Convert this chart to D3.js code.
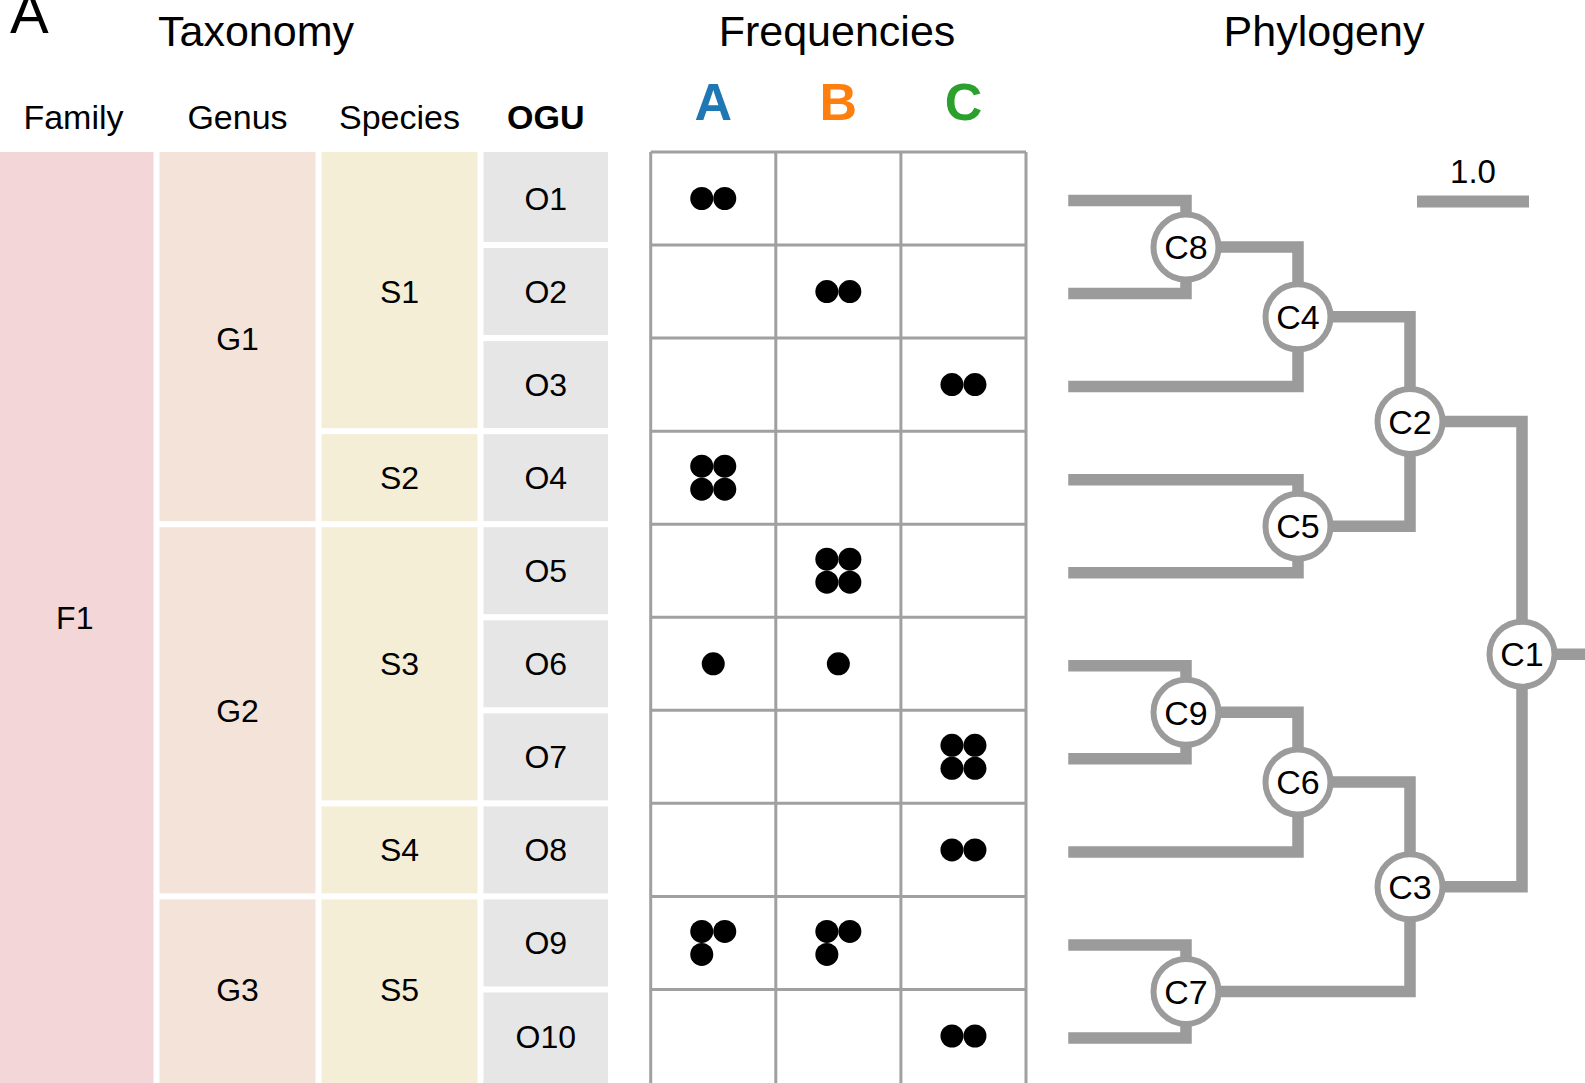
<!DOCTYPE html>
<html>
<head>
<meta charset="utf-8">
<script src="https://cdn.jsdelivr.net/npm/d3@7"></script>
<style>
  html, body { margin: 0; padding: 0; background: #fff; }
  svg { display: block; font-family: "Liberation Sans", Arial, Helvetica, sans-serif; }
</style>
</head>
<body>
<svg id="chart" width="1585" height="1083"></svg>
<script>
// ---------------- DATA ----------------
const ogus = ["O1", "O2", "O3", "O4", "O5", "O6", "O7", "O8", "O9", "O10"];
const oguFamily = ["F1", "F1", "F1", "F1", "F1", "F1", "F1", "F1", "F1", "F1"];
const oguGenus = ["G1", "G1", "G1", "G1", "G2", "G2", "G2", "G2", "G3", "G3"];
const oguSpecies = ["S1", "S1", "S1", "S2", "S3", "S3", "S3", "S4", "S5", "S5"];
const taxLevels = ["Family", "Genus", "Species", "OGU"];

const samples = ["A", "B", "C"];
const freqA = [2, 0, 0, 4, 0, 1, 0, 0, 3, 0];
const freqB = [0, 2, 0, 0, 4, 1, 0, 0, 3, 0];
const freqC = [0, 0, 2, 0, 0, 0, 4, 2, 0, 2];

// phylogeny: node id, parent id, branch length
const treeNodes   = ["C1", "C2", "C3", "C4", "C5", "C6", "C7", "C8", "C9",
                     "O1", "O2", "O3", "O4", "O5", "O6", "O7", "O8", "O9", "O10"];
const treeParents = ["",   "C1", "C1", "C2", "C2", "C3", "C3", "C4", "C6",
                     "C8", "C8", "C4", "C5", "C5", "C9", "C9", "C6", "C7", "C7"];
const branchLengths = [0, 1, 1, 1, 1, 1, 2, 1, 1,
                       1, 1, 2, 2, 2, 1, 1, 2, 1, 1];
const scaleBarValue = 1.0;

// ---------------- LAYOUT ----------------
const svg = d3.select("#chart");
const gray = "#9b9b9b";
const colFamily = "#f3d6d8", colGenus = "#f4e3d8", colSpecies = "#f4eed7", colOgu = "#e6e6e6";
const sampleColors = d3.scaleOrdinal().domain(samples).range(["#1f77b4", "#ff7f0e", "#2ca02c"]);

const y = d3.scalePoint().domain(ogus).range([198.5, 1036]);
const halfBox = 43.5;
const firstTop = 152;
const lastBottom = 1095;
const boxTop = i => i === 0 ? firstTop : y(ogus[i]) - halfBox;
const boxBot = i => i === ogus.length - 1 ? lastBottom : y(ogus[i]) + halfBox;

// taxonomy columns [x0, x1]
const taxCols = {
  Family: [-4, 153.5],
  Genus: [159.5, 315.5],
  Species: [321.5, 477.5],
  OGU: [483.5, 608]
};
const taxFill = { Family: colFamily, Genus: colGenus, Species: colSpecies, OGU: colOgu };

function groupRuns(labels) {
  const runs = [];
  labels.forEach((l, i) => {
    if (runs.length && runs[runs.length - 1].name === l) runs[runs.length - 1].end = i;
    else runs.push({ name: l, start: i, end: i });
  });
  return runs;
}
const taxData = {
  Family: groupRuns(oguFamily),
  Genus: groupRuns(oguGenus),
  Species: groupRuns(oguSpecies),
  OGU: groupRuns(ogus)
};

// Titles
svg.append("text").attr("x", 10).attr("y", 33).attr("font-size", 58).text("A");
svg.append("text").attr("x", 256).attr("y", 45.5).attr("text-anchor", "middle").attr("font-size", 43).text("Taxonomy");
svg.append("text").attr("x", 837).attr("y", 45.5).attr("text-anchor", "middle").attr("font-size", 43).text("Frequencies");
svg.append("text").attr("x", 1324).attr("y", 45.5).attr("text-anchor", "middle").attr("font-size", 43).text("Phylogeny");

// Taxonomy headers
taxLevels.forEach(lv => {
  const [x0, x1] = taxCols[lv];
  const cx = lv === "Family" ? 73.5 : (x0 + x1) / 2;
  svg.append("text").attr("x", cx).attr("y", 129).attr("text-anchor", "middle")
    .attr("font-size", 34).attr("font-weight", lv === "OGU" ? "bold" : "normal").text(lv);
});

// Taxonomy blocks
taxLevels.forEach(lv => {
  const [x0, x1] = taxCols[lv];
  const g = svg.append("g");
  const blocks = g.selectAll("g").data(taxData[lv]).join("g");
  blocks.append("rect")
    .attr("x", x0).attr("width", x1 - x0)
    .attr("y", d => boxTop(d.start))
    .attr("height", d => boxBot(d.end) - boxTop(d.start))
    .attr("fill", taxFill[lv]);
  blocks.append("text")
    .attr("x", (x0 + x1) / 2)
    .attr("y", d => (y(ogus[d.start]) + y(ogus[d.end])) / 2)
    .attr("dy", "0.36em")
    .attr("text-anchor", "middle").attr("font-size", 32)
    .text(d => d.name);
});

// Frequencies
const gridX = d3.scaleBand().domain(samples).range([650.7, 1026]).paddingInner(0).paddingOuter(0);
const freqs = { A: freqA, B: freqB, C: freqC };

svg.selectAll(".sampleLabel").data(samples).join("text")
  .attr("x", d => gridX(d) + gridX.bandwidth() / 2)
  .attr("y", 119.5).attr("text-anchor", "middle")
  .attr("font-size", 52).attr("font-weight", "bold")
  .attr("fill", d => sampleColors(d)).text(d => d);

const gridG = svg.append("g").attr("stroke", "#a0a0a0").attr("stroke-width", 3).attr("fill", "none");
const gridBottom = 1100;
[...samples.map(s => gridX(s)), gridX.range()[1]].forEach(x => {
  gridG.append("line").attr("x1", x).attr("x2", x).attr("y1", firstTop).attr("y2", gridBottom);
});
gridG.append("line").attr("x1", gridX.range()[0]).attr("x2", gridX.range()[1]).attr("y1", firstTop).attr("y2", firstTop);
ogus.slice(0, -1).forEach((o, i) => {
  const yy = (y(ogus[i]) + halfBox + boxTop(i + 1)) / 2;
  gridG.append("line").attr("x1", gridX.range()[0]).attr("x2", gridX.range()[1]).attr("y1", yy).attr("y2", yy);
});

// dot patterns
const dr = 11.5;
const patterns = {
  1: [[0, 0]],
  2: [[-1, 0], [1, 0]],
  3: [[-1, -1], [1, -1], [-1, 1]],
  4: [[-1, -1], [1, -1], [-1, 1], [1, 1]]
};
const dots = [];
samples.forEach(s => {
  freqs[s].forEach((n, i) => {
    if (n > 0) patterns[n].forEach(([dx, dy]) => {
      dots.push({ cx: gridX(s) + gridX.bandwidth() / 2 + dx * dr, cy: y(ogus[i]) + dy * dr });
    });
  });
});
svg.append("g").selectAll("circle").data(dots).join("circle")
  .attr("cx", d => d.cx).attr("cy", d => d.cy).attr("r", dr).attr("fill", "#000");

// Phylogeny
const table = treeNodes.map((id, i) => ({ id, parent: treeParents[i] || null, len: branchLengths[i] }));
const root = d3.stratify().id(d => d.id).parentId(d => d.parent)(table);
root.eachBefore(n => { n.dist = n.parent ? n.parent.dist + n.data.len : 0; });
const maxDist = d3.max(root.leaves(), l => l.dist);
const unit = 112;
const rootX = 1522;
const tx = d3.scaleLinear().domain([0, maxDist]).range([rootX, rootX - unit * maxDist]);
const treeYOffset = 2;
root.eachAfter(n => {
  if (!n.children) n.yy = y(n.id) + treeYOffset;
  else n.yy = (n.children[0].yy + n.children[n.children.length - 1].yy) / 2;
});

const lw = 11.5;
const linkG = svg.append("g").attr("fill", "none").attr("stroke", gray).attr("stroke-width", lw)
  .attr("stroke-linejoin", "miter");
root.descendants().filter(n => n.parent).forEach(n => {
  linkG.append("path")
    .attr("stroke-linecap", n.children ? "butt" : "square")
    .attr("d", `M${tx(n.dist)},${n.yy}H${tx(n.parent.dist)}V${n.parent.yy}`);
});
linkG.append("path").attr("d", `M${tx(0)},${root.yy}H${tx(-0.7)}`);

const nodeG = svg.append("g").selectAll("g").data(root.descendants().filter(n => n.children)).join("g")
  .attr("transform", n => `translate(${tx(n.dist)},${n.yy})`);
nodeG.append("circle").attr("r", 32.5).attr("fill", "#fff").attr("stroke", gray).attr("stroke-width", 6);
nodeG.append("text").attr("text-anchor", "middle").attr("dy", "0.36em").attr("font-size", 34).text(n => n.id);

// scale bar
const sbY = 201.5, sbX1 = 1529;
const sbLen = tx(0) - tx(scaleBarValue);
svg.append("line").attr("x1", sbX1 - sbLen).attr("x2", sbX1)
  .attr("y1", sbY).attr("y2", sbY).attr("stroke", gray).attr("stroke-width", 12);
svg.append("text").attr("x", sbX1 - sbLen / 2).attr("y", 183)
  .attr("text-anchor", "middle").attr("font-size", 33).text(d3.format(".1f")(scaleBarValue));
</script>
</body>
</html>
